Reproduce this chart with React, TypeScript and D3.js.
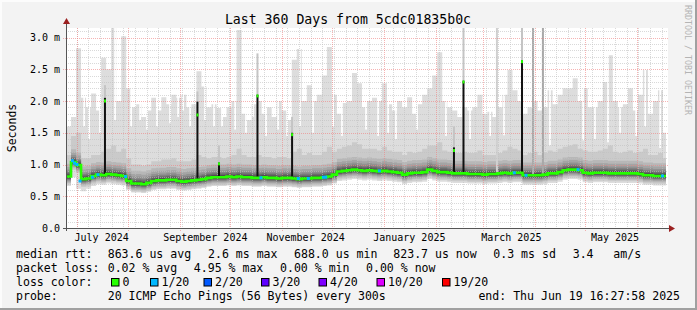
import React from "react";
import * as d3 from "d3";

const W = 697;
const H = 310;
const DAY = 86400000;
const END = Date.UTC(2025, 5, 19, 16, 27, 58);
const START = END - 360 * DAY;
const BIN_DAYS = 3;

// median RTT per 3-day bin (ms)
const medianMs = [
  0.81, 1.04, 0.99, 0.77, 0.78, 0.82, 0.84, 0.83, 0.85, 0.84,
  0.83, 0.82, 0.74, 0.7, 0.7, 0.69, 0.71, 0.74, 0.75, 0.75,
  0.76, 0.76, 0.74, 0.73, 0.74, 0.75, 0.76, 0.77, 0.79, 0.8,
  0.8, 0.8, 0.81, 0.8, 0.81, 0.8, 0.8, 0.79, 0.79, 0.8,
  0.79, 0.79, 0.78, 0.79, 0.79, 0.78, 0.77, 0.78, 0.78, 0.79,
  0.79, 0.8, 0.81, 0.84, 0.89, 0.9, 0.91, 0.92, 0.91, 0.9,
  0.91, 0.9, 0.89, 0.9, 0.89, 0.88, 0.87, 0.84, 0.86, 0.87,
  0.87, 0.88, 0.92, 0.9, 0.88, 0.88, 0.87, 0.86, 0.86, 0.86,
  0.85, 0.85, 0.85, 0.84, 0.85, 0.85, 0.86, 0.87, 0.86, 0.87,
  0.87, 0.83, 0.83, 0.83, 0.83, 0.84, 0.86, 0.86, 0.88, 0.91,
  0.92, 0.92, 0.91, 0.87, 0.86, 0.87, 0.87, 0.87, 0.86, 0.86,
  0.86, 0.86, 0.86, 0.86, 0.85, 0.83, 0.83, 0.82, 0.82, 0.82,
];

// highest ping (ms)
const maxMs = [
  1.6, 1.75, 2.83, 2.05, 1.9, 2.12, 1.85, 2.68, 2.5, 3.15,
  2.0, 3.02, 2.2, 1.9, 1.95, 1.75, 1.85, 2.05, 1.85, 2.06,
  1.95, 2.1, 2.05, 2.1, 1.9, 1.95, 2.47, 2.23, 1.9, 1.95,
  1.89, 1.75, 1.9, 2.0, 3.12, 1.8, 1.7, 1.95, 2.0, 1.8,
  1.9, 1.75, 2.0, 1.85, 1.7, 2.65, 2.82, 2.0, 2.25, 2.0,
  2.1, 2.4, 2.85, 2.1, 1.8, 1.97, 2.0, 2.44, 2.28, 1.9,
  2.0, 2.05, 2.0, 2.28, 1.95, 1.85, 2.0, 1.9, 2.06, 1.8,
  1.95, 2.1, 2.2, 2.4, 2.77, 2.0, 1.9, 1.85, 1.75, 1.9,
  1.85, 1.9, 2.1, 1.8, 1.83, 1.75, 1.9, 2.1, 2.49, 2.17,
  2.0, 1.8, 1.9, 2.0, 1.85, 1.9, 2.17, 1.95, 2.1, 2.2,
  2.2, 2.36, 2.0, 2.2, 1.9, 1.9, 2.0, 2.3, 2.72, 2.0,
  1.9, 1.95, 2.2, 1.85, 2.1, 2.49, 1.8, 2.0, 2.17, 1.5,
];

// second highest ping (ms)
const upperMs = [
  1.15, 1.45, 1.5, 1.1, 1.1, 1.15, 1.15, 1.2, 1.25, 1.3,
  1.2, 1.25, 1.1, 1.0, 1.0, 0.98, 1.0, 1.05, 1.05, 1.08,
  1.08, 1.1, 1.05, 1.05, 1.05, 1.08, 1.15, 1.12, 1.1, 1.12,
  1.12, 1.1, 1.12, 1.15, 1.25, 1.15, 1.12, 1.12, 1.15, 1.12,
  1.12, 1.1, 1.12, 1.12, 1.1, 1.2, 1.25, 1.15, 1.18, 1.15,
  1.15, 1.2, 1.28, 1.2, 1.25, 1.28, 1.3, 1.35, 1.32, 1.25,
  1.25, 1.25, 1.22, 1.28, 1.22, 1.2, 1.2, 1.15, 1.2, 1.18,
  1.2, 1.25, 1.3, 1.3, 1.35, 1.22, 1.2, 1.18, 1.18, 1.2,
  1.18, 1.18, 1.22, 1.15, 1.15, 1.15, 1.18, 1.22, 1.28, 1.25,
  1.22, 1.15, 1.18, 1.2, 1.15, 1.18, 1.22, 1.2, 1.25, 1.28,
  1.3, 1.32, 1.25, 1.22, 1.2, 1.2, 1.22, 1.25, 1.3, 1.2,
  1.18, 1.2, 1.22, 1.18, 1.2, 1.25, 1.15, 1.15, 1.18, 1.1,
];

// lowest ping (ms)
const lowMs = [
  0.66, 0.8, 0.62, 0.58, 0.62, 0.66, 0.69, 0.68, 0.7, 0.69,
  0.68, 0.67, 0.6, 0.56, 0.56, 0.55, 0.57, 0.6, 0.61, 0.61,
  0.62, 0.62, 0.6, 0.59, 0.6, 0.61, 0.62, 0.63, 0.65, 0.66,
  0.66, 0.66, 0.67, 0.66, 0.67, 0.66, 0.66, 0.65, 0.65, 0.66,
  0.65, 0.65, 0.64, 0.65, 0.65, 0.64, 0.63, 0.64, 0.64, 0.65,
  0.65, 0.66, 0.67, 0.7, 0.74, 0.75, 0.76, 0.77, 0.76, 0.75,
  0.76, 0.75, 0.74, 0.75, 0.74, 0.73, 0.72, 0.69, 0.71, 0.72,
  0.72, 0.73, 0.77, 0.75, 0.73, 0.73, 0.72, 0.71, 0.71, 0.71,
  0.7, 0.7, 0.7, 0.69, 0.7, 0.7, 0.71, 0.72, 0.71, 0.72,
  0.72, 0.68, 0.68, 0.68, 0.68, 0.69, 0.71, 0.71, 0.73, 0.76,
  0.77, 0.77, 0.76, 0.72, 0.71, 0.72, 0.72, 0.72, 0.71, 0.71,
  0.71, 0.71, 0.71, 0.71, 0.7, 0.68, 0.68, 0.67, 0.67, 0.67,
];

// spread of ping ranks 2..10 and 11..18 around the median (ms)
const rankOffsetsLow = [-0.125, -0.1, -0.08, -0.065, -0.05, -0.04, -0.03, -0.02, -0.01];
const rankOffsetsHigh = [0.012, 0.025, 0.04, 0.06, 0.08, 0.11, 0.15, 0.2];

// short columns where the highest ping stayed low (days from start, ms)
const dipDays = [
  10.8, 13.8, 20.3, 29.3, 38.9, 44.3, 48.4, 54.4, 62.2, 67.0,
  70.0, 74.2, 83.1, 88.5, 93.3, 101.1, 107.6, 111.8, 119.6, 126.8,
  132.2, 139.9, 147.7, 159.7, 165.0, 179.4, 186.6, 192.6, 197.3, 209.9,
  227.2, 241.6, 253.6, 261.9, 289.4, 309.2, 316.3, 324.1, 331.3, 340.9,
  346.3, 355.3,
];
const dipMs = [
  1.6, 1.4, 1.5, 1.7, 1.6, 1.7, 1.55, 1.6, 1.65, 1.75,
  1.85, 1.6, 1.7, 1.6, 1.6, 1.55, 1.5, 1.75, 1.45, 1.55,
  1.45, 1.6, 1.5, 1.6, 1.45, 1.55, 1.45, 1.5, 1.4, 1.55,
  1.45, 1.4, 1.45, 1.46, 1.3, 1.38, 1.4, 1.35, 1.5, 1.45,
  1.6, 1.26,
];

// single-bin median spikes (days from start)
const spikeDays = [23.3, 78.6, 91.5, 114.5, 135.2, 232.0, 237.7, 272.7];
const spikeBaseMs = [0.83, 0.75, 0.8, 0.8, 0.78, 0.87, 0.84, 0.84];
const spikeTopMs = [2.05, 1.99, 1.03, 2.1, 1.5, 1.27, 2.32, 2.64];
const spikeMedMs = [2.0, 1.78, 1.01, 2.08, 1.47, 1.22, 2.3, 2.62];
const spikeHaloMs = [2.25, 2.15, 1.3, 2.75, 1.75, 1.6, 3.15, 3.15];

// tall gray ping columns (days from start)
const tallDays = [257.7, 279.3, 285.2];
const tallBaseMs = [0.87, 0.84, 0.84];
const tallColors = ["#d0d0d0", "#a8a8a8", "#a8a8a8"];

// median samples with 1/20 loss (days from start, ms)
const lossDays = [3.9, 5.1, 6.6, 8.4, 15.8, 19.1, 35.6, 116.6, 138.9, 144.9, 153.9, 155.3, 187.4, 268.1, 275.1, 306.2, 356.7];
const lossMs = [1.06, 1.02, 1.0, 0.74, 0.8, 0.84, 0.81, 0.79, 0.78, 0.78, 0.8, 0.8, 0.9, 0.87, 0.83, 0.92, 0.82];

const yTicks = [0, 0.5, 1.0, 1.5, 2.0, 2.5, 3.0];
const yTickLabels = ["0.0", "0.5 m", "1.0 m", "1.5 m", "2.0 m", "2.5 m", "3.0 m"];
const xLabelDates = ["2024-07-16", "2024-09-16", "2024-11-15", "2025-01-16", "2025-03-18", "2025-05-19"];
const xLabels = ["July 2024", "September 2024", "November 2024", "January 2025", "March 2025", "May 2025"];

const lossColorLabels = ["0", "1/20", "2/20", "3/20", "4/20", "10/20", "19/20"];
const lossColors = ["#26ff00", "#00b8ff", "#0059ff", "#5e00ff", "#7e00ff", "#dd00ff", "#ff0000"];
const lossBoxX = [111, 150, 203.5, 261, 318.5, 376.5, 442];

const FONT = "DejaVu Sans Mono, monospace";

type Row = { t: Date; med: number; max: number; up: number; low: number };

function rank(d: Row, r: number): number {
  if (r === 1) return d.low;
  if (r === 20) return d.max;
  if (r === 19) return d.up;
  if (r <= 10) return d.med + rankOffsetsLow[r - 2];
  return d.med + rankOffsetsHigh[r - 11];
}

export default function App() {
  const x = d3.scaleUtc().domain([new Date(START), new Date(END)]).range([66, 668]);
  const y = d3.scaleLinear().domain([0, 3.15]).range([228, 28]);
  const dayX = (day: number) => x(new Date(START + day * DAY));

  const rows: Row[] = medianMs.map((m, i) => ({
    t: new Date(START + i * BIN_DAYS * DAY),
    med: m,
    max: maxMs[i],
    up: upperMs[i],
    low: lowMs[i],
  }));
  const last = rows[rows.length - 1];
  rows.push({ ...last, t: new Date(END - 1.2 * DAY) });

  const bands = d3.range(1, 11).map((k) => {
    const g = Math.round((190 / 10) * (10 - k)) + 50;
    const area = d3
      .area<Row>()
      .x((d) => x(d.t))
      .y0((d) => y(rank(d, k)))
      .y1((d) => y(rank(d, 21 - k)))
      .curve(d3.curveStepAfter);
    return { color: `rgb(${g},${g},${g})`, path: area(rows) || "" };
  });

  const medLine = d3
    .line<Row>()
    .x((d) => x(d.t))
    .y((d) => y(d.med))
    .curve(d3.curveStepAfter)(rows) || "";

  const minorY = d3.range(1, 32).map((i) => i / 10).filter((v) => Math.round(v * 10) % 5 !== 0);
  const weeks = d3.utcMonday.range(new Date(START), new Date(END));
  const months = d3.utcMonth.range(new Date(START), new Date(END));

  const plotL = 66, plotR = 668, plotT = 28, plotB = 228;

  return (
    <svg width={W} height={H} style={{ position: "absolute", left: 0, top: 0 }} xmlns="http://www.w3.org/2000/svg">
      <defs>
        <clipPath id="plot">
          <rect x={plotL} y={plotT} width={plotR - plotL} height={plotB - plotT} />
        </clipPath>
      </defs>
      <rect x={0} y={0} width={W} height={H} fill="#f3f3f3" />
      {/* 3D frame */}
      <rect x={0} y={0} width={W} height={2} fill="#fcfcfc" />
      <rect x={0} y={0} width={2} height={H} fill="#fcfcfc" />
      <rect x={0} y={H - 2} width={W} height={2} fill="#a0a0a0" />
      <rect x={W - 2} y={0} width={2} height={H} fill="#a0a0a0" />

      <rect x={plotL} y={plotT} width={plotR - plotL} height={plotB - plotT} fill="#ffffff" />

      <g clipPath="url(#plot)">
        {bands.map((b, i) => (
          <path key={i} d={b.path} fill={b.color} />
        ))}
        {dipDays.map((d, i) => (
          <rect key={i} x={dayX(d) - 0.8} y={plotT} width={1.7} height={y(dipMs[i]) - plotT} fill="#ffffff" />
        ))}
        {tallDays.map((d, i) => (
          <rect key={i} x={dayX(d) - 1} y={plotT} width={2} height={y(tallBaseMs[i]) - plotT} fill={tallColors[i]} />
        ))}
      </g>

      {/* grid */}
      <g shapeRendering="crispEdges">
        {minorY.map((v) => (
          <line key={v} x1={plotL} x2={plotR} y1={Math.round(y(v)) + 0.5} y2={Math.round(y(v)) + 0.5} stroke="#c0c0c0" strokeDasharray="1,1" strokeOpacity={0.6} />
        ))}
        {weeks.map((w) => (
          <line key={+w} x1={Math.round(x(w)) + 0.5} x2={Math.round(x(w)) + 0.5} y1={plotT} y2={plotB + 2} stroke="#c0c0c0" strokeDasharray="1,1" strokeOpacity={0.6} />
        ))}
        {yTicks.slice(1).map((v) => (
          <line key={v} x1={plotL - 3} x2={plotR} y1={Math.round(y(v)) + 0.5} y2={Math.round(y(v)) + 0.5} stroke="#f08080" strokeDasharray="1,1" strokeOpacity={0.6} />
        ))}
        {months.map((m) => (
          <line key={+m} x1={Math.round(x(m)) + 0.5} x2={Math.round(x(m)) + 0.5} y1={plotT} y2={plotB + 3} stroke="#f08080" strokeDasharray="1,1" strokeOpacity={0.6} />
        ))}
      </g>

      <g clipPath="url(#plot)">
        {spikeDays.map((d, i) => (
          <g key={i}>
            <rect x={dayX(d) - 1} y={y(spikeHaloMs[i])} width={2} height={y(spikeTopMs[i]) - y(spikeHaloMs[i])} fill="#c4c4c4" />
            <rect x={dayX(d) - 1} y={y(spikeTopMs[i])} width={2} height={y(spikeBaseMs[i]) - y(spikeTopMs[i])} fill="#111111" />
          </g>
        ))}
        <path d={medLine} fill="none" stroke="#26ff00" strokeWidth={2.6} />
        {spikeDays.map((d, i) => (
          <rect key={i} x={dayX(d) - 1} y={y(spikeMedMs[i]) - 1.5} width={2} height={3} fill="#26ff00" />
        ))}
        {lossDays.map((d, i) => (
          <rect key={i} x={dayX(d) - 1.5} y={y(lossMs[i]) - 1.5} width={3} height={3} fill="#00b8ff" />
        ))}
      </g>

      {/* axes */}
      <line x1={plotL - 3} x2={plotR + 1} y1={plotB + 0.5} y2={plotB + 0.5} stroke="#555" shapeRendering="crispEdges" />
      <line x1={plotL + 0.5} x2={plotL + 0.5} y1={plotB + 3} y2={plotT - 4} stroke="#555" shapeRendering="crispEdges" />
      <path d={`M${plotR + 1},${plotB - 3} L${plotR + 7},${plotB + 0.5} L${plotR + 1},${plotB + 4} Z`} fill="#9b2020" />
      <path d={`M${plotL - 3},${plotT - 4} L${plotL + 0.5},${plotT - 10} L${plotL + 4},${plotT - 4} Z`} fill="#9b2020" />

      {/* y labels */}
      {yTicks.map((v, i) => (
        <text key={v} x={60} y={y(v) + 3.6} textAnchor="end" fontFamily={FONT} fontSize={10} fill="#000">
          {yTickLabels[i]}
        </text>
      ))}
      {xLabels.map((l, i) => (
        <text key={l} x={x(new Date(xLabelDates[i] + "T00:00:00Z"))} y={241} textAnchor="middle" fontFamily={FONT} fontSize={10} fill="#000">
          {l}
        </text>
      ))}

      <text x={348} y={23.5} textAnchor="middle" fontFamily={FONT} fontSize={13.2} fill="#000">
        Last 360 Days from 5cdc01835b0c
      </text>
      <text transform="translate(15.5,128) rotate(-90)" textAnchor="middle" fontFamily={FONT} fontSize={11.5} fill="#000">
        Seconds
      </text>
      <text transform="translate(685,5) rotate(90)" fontFamily={FONT} fontSize={8.3} fill="#b4b4b4">
        RRDTOOL / TOBI OETIKER
      </text>

      {/* legend */}
      <g fontFamily={FONT} fontSize={11.55} fill="#000" style={{ whiteSpace: "pre" }}>
        <text x={16} y={258}>median rtt:</text>
        <text x={107.7} y={258}>863.6 us avg</text>
        <text x={208} y={258}>2.6 ms max</text>
        <text x={294} y={258}>688.0 us min</text>
        <text x={393.3} y={258}>823.7 us now</text>
        <text x={493.3} y={258}>0.3 ms sd</text>
        <text x={572.7} y={258}>3.4</text>
        <text x={613.3} y={258}>am/s</text>

        <text x={16} y={272}>packet loss:</text>
        <text x={107.7} y={272}>0.02 % avg</text>
        <text x={193.8} y={272}>4.95 % max</text>
        <text x={280} y={272}>0.00 % min</text>
        <text x={366} y={272}>0.00 % now</text>

        <text x={16} y={286}>loss color:</text>
        {lossColorLabels.map((l, i) => (
          <g key={l}>
            <rect x={lossBoxX[i] + 0.5} y={278.5} width={7.5} height={7.5} fill={lossColors[i]} stroke="#000" strokeWidth={1} />
            <text x={lossBoxX[i] + 11.5} y={286}>{l}</text>
          </g>
        ))}

        <text x={16} y={300}>probe:</text>
        <text x={107.7} y={300}>20 ICMP Echo Pings (56 Bytes) every 300s</text>
        <text x={680} y={300} textAnchor="end">end: Thu Jun 19 16:27:58 2025</text>
      </g>
    </svg>
  );
}
